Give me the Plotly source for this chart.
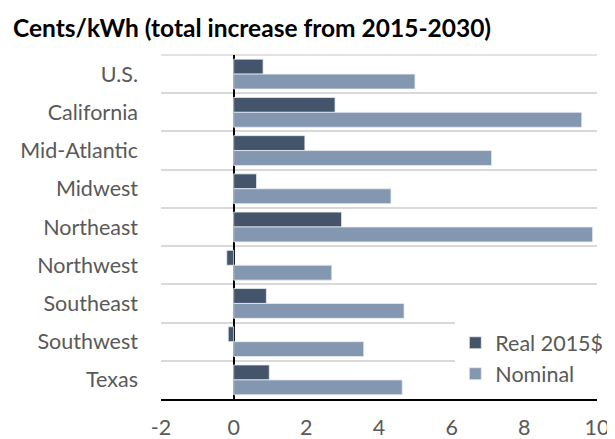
import plotly.graph_objects as go

regions = ["U.S.", "California", "Mid-Atlantic", "Midwest", "Northeast",
           "Northwest", "Southeast", "Southwest", "Texas"]
real_2015 = [0.81, 2.79, 1.96, 0.63, 2.97, -0.19, 0.90, -0.15, 0.98]
nominal = [4.99, 9.58, 7.10, 4.33, 9.88, 2.70, 4.69, 3.58, 4.64]
x_ticks = [-2, 0, 2, 4, 6, 8, 10]
x_tick_labels = ["-2", "0", "2", "4", "6", "8", "10"]

FONT = "Lato"
TXT = "#595959"
FS = 21.5
W, H = 607, 431  # page body has an 8px margin

fig = go.Figure()
fig.add_trace(go.Bar(y=regions, x=real_2015, orientation="h", name="Real 2015$",
                     marker=dict(color="#44546A", line=dict(color="#E8ECF2", width=0.8))))
fig.add_trace(go.Bar(y=regions, x=nominal, orientation="h", name="Nominal",
                     marker=dict(color="#8497B0", line=dict(color="#E8ECF2", width=0.8))))

fig.add_shape(type="line", xref="paper", yref="paper", x0=0, x1=1, y0=1, y1=1,
              line=dict(color="#D9D9D9", width=1.5), layer="below")

fig.update_layout(
    width=W, height=H,
    margin=dict(l=153, r=18, t=47, b=40, autoexpand=False),
    paper_bgcolor="white", plot_bgcolor="white",
    barmode="group", bargap=0.22, bargroupgap=0,
    font=dict(family=FONT, size=FS, color=TXT),
    title=dict(text="<b>Cents/kWh (total increase from 2015-2030)</b>",
               x=5 / W, xanchor="left", y=1 - 20 / H, yanchor="middle",
               font=dict(family=FONT, size=24.5, color="black")),
    xaxis=dict(range=[-2, 10], tickvals=x_ticks, ticktext=x_tick_labels, showgrid=False,
               zeroline=True, zerolinecolor="black", zerolinewidth=2,
               showline=True, linecolor="black", linewidth=1.5, automargin=False,
               ticks="", ticklabelstandoff=8, tickfont=dict(size=FS, color=TXT)),
    yaxis=dict(type="category", range=[8.5, -0.5], tickson="boundaries",
               showgrid=True, gridcolor="#D9D9D9", gridwidth=1.5, automargin=False,
               ticks="", ticklabelstandoff=22, tickfont=dict(size=FS, color=TXT)),
    legend=dict(x=0.675, y=0.223, xanchor="left", yanchor="top",
                bgcolor="white", font=dict(size=FS, color=TXT),
                itemwidth=30, tracegroupgap=0),
    showlegend=True,
)

fig.write_html("out.html")
